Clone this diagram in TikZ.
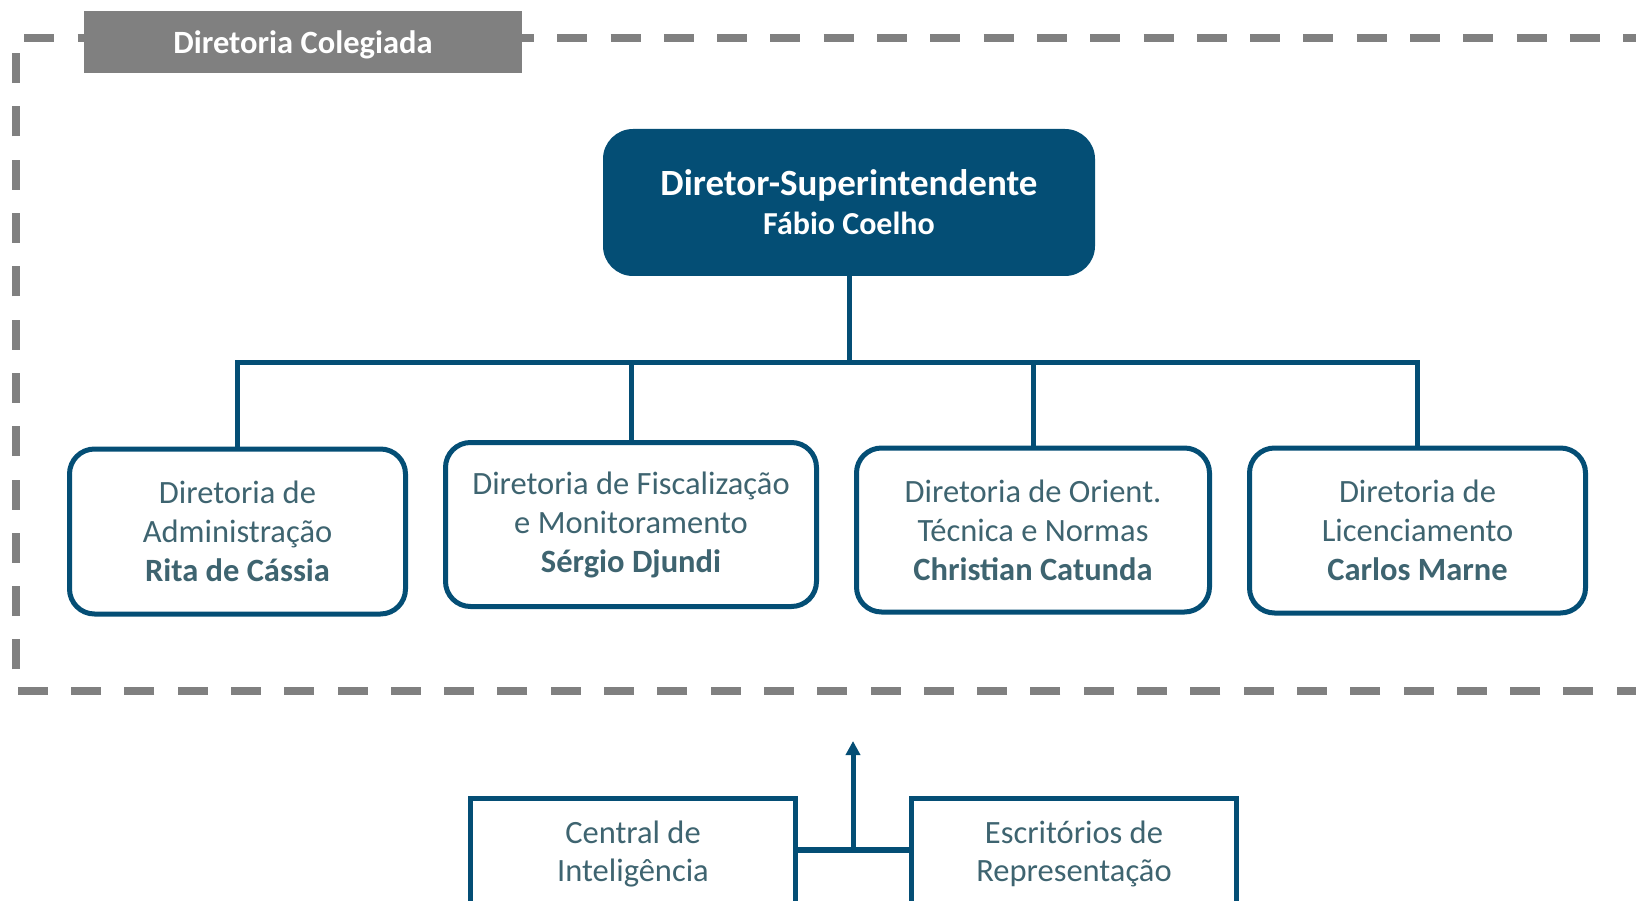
\documentclass[tikz,border=0pt]{standalone}
\usepackage{fontspec}
\setmainfont{Carlito}
\usetikzlibrary{positioning,arrows.meta}
\definecolor{dirblue}{HTML}{044E75}
\definecolor{dirtext}{HTML}{3E6470}
\definecolor{dirgray}{HTML}{808080}

\begin{document}
\begin{tikzpicture}[x=1pt,y=-1pt,
	moldura/.style={dirgray,line width=8pt,dash pattern=on 30pt off 23.3pt},
	titulo/.style={fill=dirgray,minimum width=438pt,minimum height=62pt,text depth=0pt,text=white,font=\bfseries\fontsize{32.5}{36}\selectfont},
	chefe/.style={fill=dirblue,rounded corners=30pt,minimum width=492pt,minimum height=147pt,text=white,align=center,font=\bfseries\fontsize{37}{39}\selectfont},
	diretoria/.style={draw=dirblue,line width=5pt,fill=white,rounded corners=25pt,minimum height=165pt,text=dirtext,align=center,font=\fontsize{32.5}{39}\selectfont},
	apoio/.style={draw=dirblue,line width=5pt,fill=white,anchor=north,minimum width=325pt,minimum height=112pt,text=dirtext,align=center,font=\fontsize{32.5}{38}\selectfont},
	liga/.style={dirblue,line width=5pt}]
	\useasboundingbox (0,0) rectangle (1636,901);
	\clip (0,0) rectangle (1636,901);
	
	%MOLDURA
	\draw[moldura] (1700,691) -- (16,691) -- (16,38) -- (1700,38);
	\node[titulo] (colegiada) at (303,42) {Diretoria Colegiada};
	
	%DIRETORIAS
	\node[chefe] (super) at (849,202.5) {Diretor-Superintendente\\{\fontsize{32}{39}\selectfont Fábio Coelho}};
	\node[diretoria,minimum width=336pt] (dadm) at (237.5,531.5) {Diretoria de\\Administração\\\textbf{Rita de Cássia}};
	\node[diretoria,minimum width=371pt,minimum height=164pt] (dfis) at (631,524.5) {Diretoria de Fiscalização\\e Monitoramento\\\textbf{Sérgio Djundi}};
	\node[diretoria,minimum width=353pt,minimum height=164pt] (dori) at (1033,530) {Diretoria de Orient.\\Técnica e Normas\\\textbf{Christian Catunda}};
	\node[diretoria,minimum width=336pt] (dlic) at (1417.5,530.5) {Diretoria de\\Licenciamento\\\textbf{Carlos Marne}};
	
	\coordinate (barra) at (849,362);
	\draw[liga] (super.south) -- (barra);
	\draw[liga] (dadm.north) -- (dadm.north |- barra) -- (dlic.north |- barra) -- (dlic.north);
	\draw[liga] (dfis.north) -- (dfis.north |- barra);
	\draw[liga] (dori.north) -- (dori.north |- barra);
	
	%APOIO
	\node[apoio] (central) at (633,795.5) {Central de\\Inteligência};
	\node[apoio] (escritorios) at (1074,795.5) {Escritórios de\\Representação};
	
	\coordinate (juncao) at (853,850);
	\coordinate (seta) at (853,741);
	\draw[liga,line width=6pt] (central.east |- juncao) -- (escritorios.west |- juncao);
	\draw[liga,-{Triangle[length=14pt,width=14pt]}] (juncao) -- (seta);
	
\end{tikzpicture}
\end{document}
